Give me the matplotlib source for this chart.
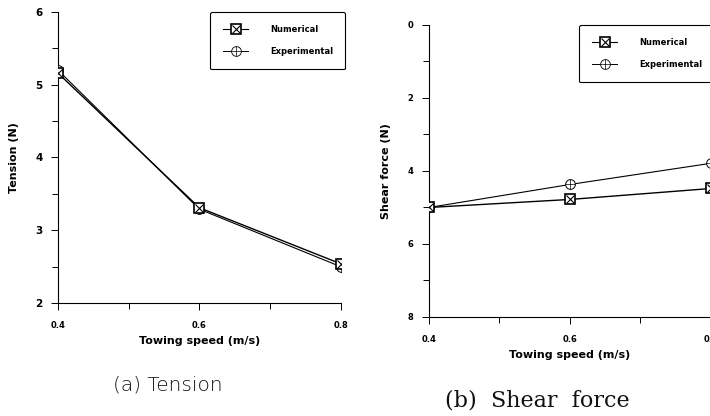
import matplotlib
matplotlib.use("Agg")
import matplotlib.pyplot as plt
from matplotlib.lines import Line2D
from matplotlib.ticker import MultipleLocator

speed = [0.4, 0.6, 0.8]
tension_num = [5.16, 3.31, 2.54]
tension_exp = [5.20, 3.29, 2.50]
shear_num = [5.00, 4.78, 4.48]
shear_exp = [5.00, 4.37, 3.79]
x_ticks = [0.4, 0.6, 0.8]
x_labels = ["0.4", "0.6", "0.8"]

fig = plt.figure(figsize=(7.1, 4.16), dpi=100)

ax1 = fig.add_axes([0.0817, 0.2716, 0.398, 0.6996])
ax2 = fig.add_axes([0.6042, 0.238, 0.397, 0.702])

def plot_pair(ax, num, exp):
    ax.plot(speed, exp, color="black", lw=0.8, zorder=2)
    ax.plot(speed, exp, ls="none", marker="o", ms=7, mfc="white", mec="black", mew=0.7, zorder=3)
    ax.plot(speed, exp, ls="none", marker="+", ms=7, mec="black", mew=0.5, zorder=3)
    ax.plot(speed, num, color="black", lw=1.0, zorder=4)
    ax.plot(speed, num, ls="none", marker="s", ms=7, mfc="white", mec="black", mew=1.2, zorder=5)
    ax.plot(speed, num, ls="none", marker="x", ms=6, mec="black", mew=0.8, zorder=6)

def style(ax, ysize):
    for s in ["top", "right"]:
        ax.spines[s].set_visible(False)
    for s in ["left", "bottom"]:
        ax.spines[s].set_linewidth(0.8)
    ax.set_xlim(0.4, 0.8)
    ax.set_xticks(x_ticks)
    ax.set_xticklabels(x_labels)
    ax.xaxis.set_minor_locator(MultipleLocator(0.1))
    ax.tick_params(which="both", direction="out", length=5, width=0.7, labelsize=6)
    ax.tick_params(axis="x", pad=8)
    ax.tick_params(axis="y", labelsize=ysize, pad=6)
    ax.tick_params(which="minor", length=4)
    for lab in ax.get_xticklabels() + ax.get_yticklabels():
        lab.set_fontweight("bold")
    ax.set_xlabel("Towing speed (m/s)", fontsize=8, fontweight="bold", labelpad=4)

plot_pair(ax1, tension_num, tension_exp)
ax1.set_ylim(2, 6)
ax1.set_yticks([2, 3, 4, 5, 6])
ax1.yaxis.set_minor_locator(MultipleLocator(0.5))
style(ax1, 7.5)
ax1.set_ylabel("Tension (N)", fontsize=8, fontweight="bold", labelpad=12)

plot_pair(ax2, shear_num, shear_exp)
ax2.set_ylim(8, 0)
ax2.set_yticks([0, 2, 4, 6, 8])
ax2.yaxis.set_minor_locator(MultipleLocator(1))
style(ax2, 6)
ax2.set_ylabel("Shear force (N)", fontsize=8, fontweight="bold", labelpad=12)

h_num = (Line2D([], [], color="black", lw=0.8, marker="s", ms=7, mfc="white", mec="black", mew=1.2),
         Line2D([], [], ls="none", marker="x", ms=6, mec="black", mew=0.8))
h_exp = (Line2D([], [], color="black", lw=0.7, marker="o", ms=7, mfc="white", mec="black", mew=0.6),
         Line2D([], [], ls="none", marker="+", ms=7, mec="black", mew=0.5))

for left, top, width in [(210, 12, 135), (579, 25, 150)]:
    leg = fig.legend([h_num, h_exp], ["Numerical", "Experimental"],
                     loc="upper left", mode="expand",
                     bbox_to_anchor=(left/710, 1 - top/416 - 0.2, width/710, 0.2),
                     bbox_transform=fig.transFigure, frameon=True, fancybox=True,
                     edgecolor="black", framealpha=1, prop={"size": 6, "weight": "bold"},
                     handlelength=3.0, borderpad=1.6, labelspacing=1.5, handletextpad=2.6,
                     borderaxespad=0)
    leg.get_frame().set_linewidth(0.8)

fig.text(168/710, 1 - 385/416, "(a) Tension", fontsize=14.5, family="DejaVu Sans",
         fontweight="light", va="center", ha="center", color="#111111")
fig.text(537/710, 1 - 400/416, "(b)  Shear  force", fontsize=16, family="DejaVu Serif",
         va="center", ha="center", color="#111111")

fig.savefig("out.png", dpi=100)
